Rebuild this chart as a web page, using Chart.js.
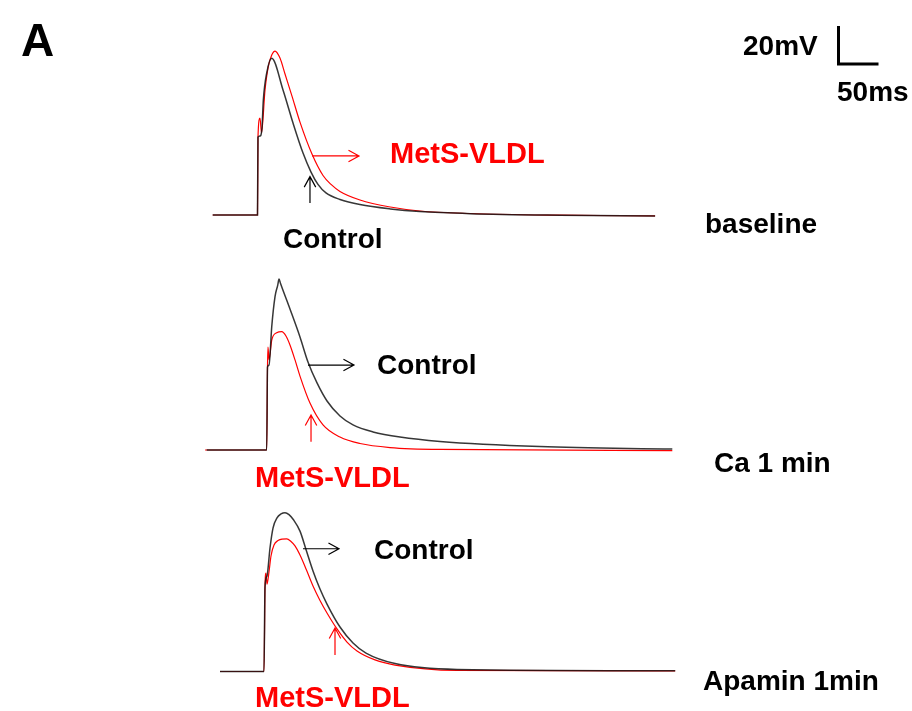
<!DOCTYPE html>
<html>
<head>
<meta charset="utf-8">
<script src="https://cdn.jsdelivr.net/npm/chart.js@4.4.1/dist/chart.umd.min.js"></script>
<style>
  html, body { margin: 0; padding: 0; background: #fff; }
  #fig { position: relative; width: 912px; height: 711px; overflow: hidden; }
  #fig canvas { position: absolute; left: 0; }
  .lbl { position: absolute; font-family: "Liberation Sans", Arial, sans-serif; font-weight: bold;
         font-size: 28px; line-height: 28px; white-space: nowrap; color: #000; }
  .red { color: #ff0000; font-size: 29px; line-height: 29px; }
</style>
</head>
<body>
<div id="fig">
  <canvas id="p1" width="912" height="250" style="top:0px"></canvas>
  <canvas id="p2" width="912" height="230" style="top:250px"></canvas>
  <canvas id="p3" width="912" height="231" style="top:480px"></canvas>

  <div class="lbl" style="left:21px;top:17px;font-size:46px;line-height:46px">A</div>
  <div class="lbl" style="left:743px;top:32px">20mV</div>
  <div class="lbl" style="left:837px;top:78px">50ms</div>

  <div class="lbl red" style="left:390px;top:139px">MetS-VLDL</div>
  <div class="lbl" style="left:283px;top:225px">Control</div>
  <div class="lbl" style="left:705px;top:210px">baseline</div>

  <div class="lbl" style="left:377px;top:351px">Control</div>
  <div class="lbl red" style="left:255px;top:463px">MetS-VLDL</div>
  <div class="lbl" style="left:714px;top:449px">Ca 1 min</div>

  <div class="lbl" style="left:374px;top:536px">Control</div>
  <div class="lbl red" style="left:255px;top:683px">MetS-VLDL</div>
  <div class="lbl" style="left:703px;top:667px">Apamin 1min</div>
</div>

<script>
// time in ms from stimulus, membrane potential in mV
const baseCtrlT = [-56, 0, 0.6, 3.1, 5.6, 7.3, 11.5, 17.8, 31.9, 44.4, 56.9, 66.9, 75.6, 85.6, 103.1, 128, 166, 203, 266, 378, 497];
const baseCtrlV = [-80, -80, -39, -38.4, -34.2, -19.5, -5.3, 2.5, -14.2, -31.6, -47.4, -57.4, -63.9, -68.4, -71.8, -74.5, -76.8, -78.2, -79.3, -80.1, -80.5];
const baseMetsT = [-56, 0, 0.6, 3.1, 5, 9.4, 13.5, 17.8, 21.9, 28.1, 34.4, 43.1, 53.1, 68.1, 81.9, 91.9, 103.1, 128.1, 166, 203, 266, 378, 497];
const baseMetsV = [-80, -80, -39, -29, -36.8, -14.2, -1.9, 4.2, 6.3, 2.6, -5.8, -17.4, -31.1, -47.9, -59.2, -63.9, -67.6, -72.1, -75.8, -77.9, -79.2, -80.1, -80.5];

const caCtrlT = [-75, 0, 1, 2.9, 6.3, 10.4, 13.8, 15.4, 17.3, 29.1, 41.6, 51.6, 62.9, 75.4, 91.6, 107.9, 132.9, 166.6, 216.6, 341.6, 507];
const caCtrlV = [-80, -80, -36.3, -35.3, -15.1, 0.7, 6.8, 10, 7.6, -5.8, -20.5, -33.7, -44.7, -54.2, -62.1, -66.8, -70.5, -73.2, -75.5, -78.2, -79.5];
const caMetsT = [-77, 0, 1, 1.6, 2.9, 6.3, 12.5, 18.8, 24.1, 29.1, 35.4, 41.6, 54.1, 70.4, 91.6, 116.6, 154.1, 216.6, 507];
const caMetsV = [-80, -80, -36.3, -25.8, -32.6, -22.1, -18.3, -17.7, -20, -24.7, -32.6, -41.1, -55.3, -66.8, -73.2, -76.6, -78.7, -79.7, -80.3];

const apaCtrlT = [-55, 0, 1.25, 3.75, 7.5, 11.25, 16.25, 21.25, 26.25, 31.25, 36.6, 45, 53.1, 61.25, 70, 78.75, 95, 111.25, 127.5, 163.75, 241.25, 514];
const apaCtrlV = [-80, -80, -35.5, -29.7, -15, -4.5, 0.8, 2.9, 3.6, 2.6, 0, -6.1, -16.6, -27.1, -36.6, -44.5, -56.6, -65, -70.3, -75.8, -78.9, -79.6];
const apaMetsT = [-55, 0, 1.25, 2.5, 3.75, 6.25, 8.75, 12.5, 17.5, 22.5, 28.4, 33.75, 38.75, 45, 53.1, 61.25, 70, 78.75, 91.25, 103.75, 116.25, 138.75, 163.75, 241.25, 514];
const apaMetsV = [-80, -80, -35.5, -28.2, -34, -27.6, -19.2, -13.4, -11.1, -10.3, -10.2, -11.6, -13.9, -18.7, -26.6, -35, -42.6, -49.2, -57.6, -64.5, -69.2, -73.9, -76.6, -79.4, -79.7];

// scale bar sizes
const barMv = 20;
const barMs = 50;

const RED = "#ff0000";
const BLACK = "rgba(20,20,20,0.85)";
const PX_PER_MS = 0.8;
const PX_PER_MV = 1.9;
const REST = -80;

const pts = (t, v) => t.map((x, i) => ({ x: x, y: v[i] }));

// arrows in data units: [t0, v0, t1, v1, colour]
const panels = [
  { id: "p1", top: 0, height: 250, stepX: 257.5, baseY: 215,
    ctrl: pts(baseCtrlT, baseCtrlV), mets: pts(baseMetsT, baseMetsV),
    arrows: [[68.1, -48.9, 126.9, -48.9, RED], [65.6, -73.7, 65.6, -59.8, "#000"]],
    bar: { t: 726.25, v: -0.5 } },
  { id: "p2", top: 250, height: 230, stepX: 266.7, baseY: 450,
    ctrl: pts(caCtrlT, caCtrlV), mets: pts(caMetsT, caMetsV),
    arrows: [[51.6, -35.3, 109.1, -35.3, "#000"], [55.4, -75.6, 55.4, -61.6, RED]] },
  { id: "p3", top: 480, height: 231, stepX: 264, baseY: 671.5,
    ctrl: pts(apaCtrlT, apaCtrlV), mets: pts(apaMetsT, apaMetsV),
    arrows: [[48.75, -15.4, 93.75, -15.4, "#000"], [88.75, -71.3, 88.75, -57.1, RED]] }
];

function arrowPlugin(list) {
  return {
    id: "arrows",
    afterDatasetsDraw(chart) {
      const { ctx, scales: { x, y } } = chart;
      ctx.save();
      ctx.lineWidth = 1.2;
      list.forEach(a => {
        const x0 = x.getPixelForValue(a[0]), y0 = y.getPixelForValue(a[1]);
        const x1 = x.getPixelForValue(a[2]), y1 = y.getPixelForValue(a[3]);
        const ang = Math.atan2(y1 - y0, x1 - x0);
        ctx.strokeStyle = a[4];
        ctx.beginPath();
        ctx.moveTo(x0, y0);
        ctx.lineTo(x1, y1);
        ctx.moveTo(x1 - 12 * Math.cos(ang - 0.5), y1 - 12 * Math.sin(ang - 0.5));
        ctx.lineTo(x1, y1);
        ctx.lineTo(x1 - 12 * Math.cos(ang + 0.5), y1 - 12 * Math.sin(ang + 0.5));
        ctx.stroke();
      });
      ctx.restore();
    }
  };
}

panels.forEach(p => {
  const xMin = -p.stepX / PX_PER_MS;
  const yMax = REST + (p.baseY - p.top) / PX_PER_MV;

  const datasets = [
    { data: p.ctrl, borderColor: BLACK, borderWidth: 1.5, cubicInterpolationMode: "monotone" },
    { data: p.mets, borderColor: RED, borderWidth: 1.2, cubicInterpolationMode: "monotone" }
  ];
  if (p.bar) {
    datasets.unshift({
      data: [
        { x: p.bar.t, y: p.bar.v + barMv },
        { x: p.bar.t, y: p.bar.v },
        { x: p.bar.t + barMs, y: p.bar.v }
      ],
      borderColor: "#000", borderWidth: 3, tension: 0, borderJoinStyle: "miter"
    });
  }

  new Chart(document.getElementById(p.id), {
    type: "line",
    data: { datasets: datasets },
    options: {
      responsive: false,
      animation: false,
      devicePixelRatio: 1,
      layout: { padding: 0 },
      elements: { point: { radius: 0 } },
      plugins: { legend: { display: false }, tooltip: { enabled: false } },
      scales: {
        x: { type: "linear", display: false, min: xMin, max: xMin + 912 / PX_PER_MS },
        y: { type: "linear", display: false, min: yMax - p.height / PX_PER_MV, max: yMax }
      }
    },
    plugins: [arrowPlugin(p.arrows)]
  });
});
</script>
</body>
</html>
